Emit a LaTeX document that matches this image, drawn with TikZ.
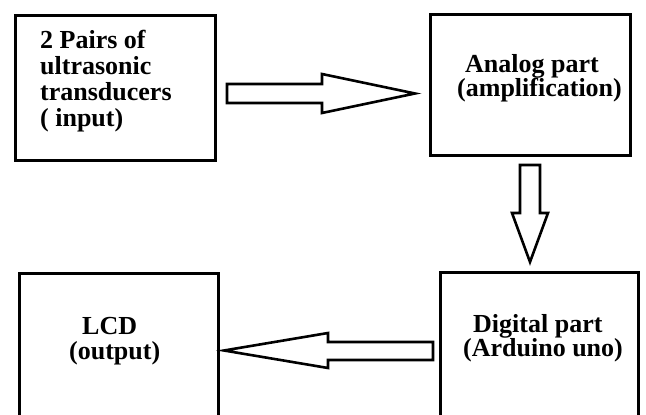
\documentclass[tikz,border=0pt]{standalone}
\usepackage{fontspec}
\setmainfont{Liberation Serif}
\begin{document}
\begin{tikzpicture}[x=1pt,y=1pt,
  blockbox/.style={draw=black,line width=3pt,rectangle,inner sep=0pt,fill=white},
  lbl/.style={anchor=base west,inner sep=0pt,font=\fontsize{26}{26}\selectfont\bfseries,text=black},
  blockarrow/.style={draw=black,line width=2.6pt,line join=miter,fill=white}]
\useasboundingbox (0,0) rectangle (646,415);
\clip (0,0) rectangle (646,415);
\fill[white] (0,0) rectangle (646,415);
% boxes
\node[blockbox,minimum width=200pt,minimum height=145pt] (input) at (115.5,327) {};
\node[blockbox,minimum width=200pt,minimum height=141pt] (analog) at (530.5,330) {};
\node[blockbox,minimum width=198pt,minimum height=162.5pt] (digital) at (539.5,61.25) {};
\node[blockbox,minimum width=199pt,minimum height=161.5pt] (lcd) at (119,60.75) {};
% texts
\node[lbl] (t1a) at (40,366) {2 Pairs of};
\node[lbl] (t1b) at (40,340) {ultrasonic};
\node[lbl] (t1c) at (40,314) {transducers};
\node[lbl] (t1d) at (40,288) {( input)};
\node[lbl] (t2a) at (465,342) {Analog part};
\node[lbl] (t2b) at (457,318) {(amplification)};
\node[lbl] (t3a) at (473,82) {Digital part};
\node[lbl] (t3b) at (463,58) {(Arduino uno)};
\node[lbl] (t4a) at (82,80) {LCD};
\node[lbl] (t4b) at (69,55) {(output)};
% block arrows
\draw[blockarrow] (227,312) -- (322,312) -- (322,302) -- (415,321.5) -- (322,341) -- (322,331) -- (227,331) -- cycle;
\draw[blockarrow] (520,250) -- (540,250) -- (540,202) -- (548,202) -- (530,153) -- (512,202) -- (520,202) -- cycle;
\draw[blockarrow] (433,73) -- (328,73) -- (328,82) -- (224,64.5) -- (328,47) -- (328,55) -- (433,55) -- cycle;
\end{tikzpicture}
\end{document}
